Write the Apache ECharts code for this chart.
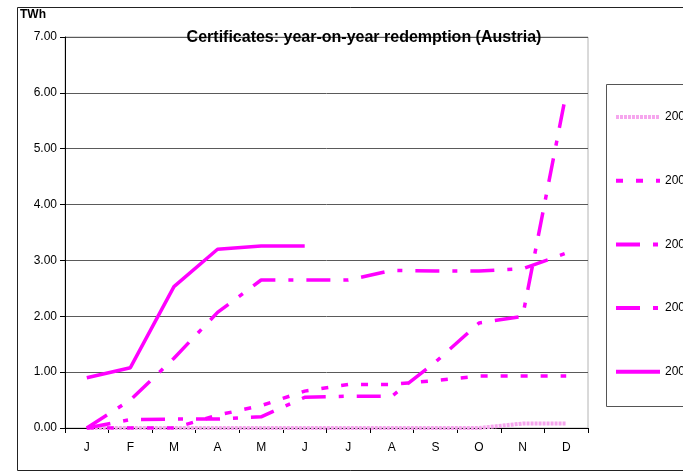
<!DOCTYPE html>
<html>
<head>
<meta charset="utf-8">
<script src="https://cdn.jsdelivr.net/npm/echarts@6/dist/echarts.min.js"></script>
<style>
  html, body { margin: 0; padding: 0; background: #fff; }
  #chart { width: 683px; height: 472px; }
</style>
</head>
<body>
<div id="chart"></div>
<script>
const months = ['J', 'F', 'M', 'A', 'M', 'J', 'J', 'A', 'S', 'O', 'N', 'D']
const yearNames = ['2002', '2003', '2004', '2005', '2006']
const y2002 = [0, 0, 0, 0, 0, 0, 0, 0, 0, 0, 0.08, 0.08]
const y2003 = [0, 0, 0, 0.23, 0.40, 0.66, 0.78, 0.78, 0.85, 0.93, 0.93, 0.93]
const y2004 = [0, 0.15, 0.16, 0.16, 0.20, 0.55, 0.57, 0.57, 1.18, 1.88, 2.00, 6.00]
const y2005 = [0, 0.50, 1.25, 2.07, 2.65, 2.65, 2.65, 2.82, 2.81, 2.81, 2.85, 3.13]
const y2006 = [0.90, 1.08, 2.53, 3.20, 3.26, 3.26, null, null, null, null, null, null]
const yTicks = ['0.00', '1.00', '2.00', '3.00', '4.00', '5.00', '6.00', '7.00']

const magenta = '#ff00ff'
const font = 'Arial, "Liberation Sans", sans-serif'

const lineSeries = (name, data, color, width, type) => ({
  name,
  type: 'line',
  data,
  symbol: 'none',
  showSymbol: false,
  connectNulls: false,
  animation: false,
  lineStyle: { color, width, type, cap: 'butt' },
  itemStyle: { color },
})

const chart = echarts.init(document.getElementById('chart'), null, { renderer: 'canvas' })

chart.setOption({
  backgroundColor: '#fff',
  animation: false,
  textStyle: { fontFamily: font },
  title: {
    text: 'Certificates: year-on-year redemption (Austria)',
    left: 359,
    top: 25,
    textAlign: 'center',
    textStyle: { fontSize: 16, fontWeight: 'bold', color: '#000', fontFamily: font },
  },
  grid: {
    left: 65,
    right: 95,
    top: 37,
    bottom: 44,
    show: true,
    borderColor: '#b4b4b4',
    borderWidth: 1,
  },
  legend: {
    orient: 'vertical',
    left: 609,
    top: 106,
    itemWidth: 44,
    itemHeight: 14,
    itemGap: 51.7,
    itemStyle: { opacity: 0 },
    lineStyle: { width: 4 },
    textStyle: { fontSize: 12, color: '#000', fontFamily: font },
    data: yearNames,
  },
  xAxis: {
    type: 'category',
    data: months,
    boundaryGap: true,
    axisLine: { lineStyle: { color: '#000', width: 1 } },
    axisTick: { show: true, length: 5, lineStyle: { color: '#000' } },
    axisLabel: { color: '#000', fontSize: 12, margin: 14, fontFamily: font },
    splitLine: { show: false },
  },
  yAxis: {
    type: 'value',
    min: 0,
    max: 7,
    interval: 1,
    axisLine: { show: true, lineStyle: { color: '#000', width: 1 } },
    axisTick: { show: true, length: 5, lineStyle: { color: '#000' } },
    axisLabel: {
      color: '#000',
      fontSize: 12,
      margin: 8,
      fontFamily: font,
      formatter: (v) => yTicks[Math.round(v)] ?? v.toFixed(2),
    },
    splitLine: { show: true, lineStyle: { color: '#5a5a5a', width: 1 } },
  },
  graphic: [
    {
      type: 'rect',
      shape: { x: 17.5, y: 7.5, width: 700, height: 463 },
      style: { fill: 'none', stroke: '#222', lineWidth: 1 },
      silent: true,
      z: -1,
    },
    {
      type: 'rect',
      shape: { x: 606.5, y: 84.5, width: 100, height: 322 },
      style: { fill: 'none', stroke: '#555', lineWidth: 1 },
      silent: true,
    },
    {
      type: 'text',
      left: 20,
      top: 9,
      style: { text: 'TWh', font: 'bold 12px ' + font, fill: '#000' },
    },
  ],
  series: [
    lineSeries(yearNames[0], y2002, '#f6a6ee', 4, [3, 1]),
    lineSeries(yearNames[1], y2003, magenta, 3.5, [7, 13]),
    lineSeries(yearNames[2], y2004, magenta, 3.5, [24, 13, 5, 13]),
    lineSeries(yearNames[3], y2005, magenta, 3.5, [24, 13, 5, 13]),
    lineSeries(yearNames[4], y2006, magenta, 3.5, 'solid'),
  ],
})
</script>
</body>
</html>
